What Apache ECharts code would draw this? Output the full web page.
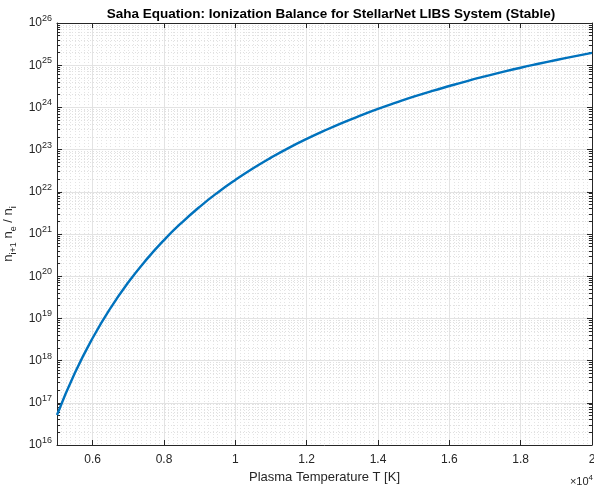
<!DOCTYPE html>
<html><head><meta charset="utf-8">
<script src="https://cdn.jsdelivr.net/npm/echarts@6/dist/echarts.min.js"></script>
<style>html,body{margin:0;padding:0;background:#fff}#c{width:594px;height:488px}</style>
</head><body><div id="c"></div>
<script>
// Plasma temperature [K]
const temperatures = [5000,5500,6000,6500,7000,7500,8000,8500,9000,9500,10000,10500,11000,11500,12000,12500,13000,13500,14000,14500,15000,15500,16000,16500,17000,17500,18000,18500,19000,19500,20000];
// n_{i+1} n_e / n_i
const ratioValues = [5.15e16,5.07e17,3.44e18,1.76e19,7.18e19,2.44e20,7.19e20,1.87e21,4.41e21,9.53e21,1.91e22,3.61e22,6.44e22,1.10e23,1.79e23,2.82e23,4.31e23,6.37e23,9.18e23,1.29e24,1.79e24,2.42e24,3.21e24,4.21e24,5.43e24,6.92e24,8.71e24,1.08e25,1.33e25,1.62e25,1.96e25];
// tick labels
const xTickValues = [6000,8000,10000,12000,14000,16000,18000,20000];
const yTickExponents = [16,17,18,19,20,21,22,23,24,25,26];

const FONT = '"Liberation Sans", Arial, Helvetica, sans-serif';
const AX = '#262626';
// tiny inward nudge at the ends so float rounding never drops the end ticks
const yDecades = yTickExponents.map((e, i) => {
  let v = Number('1e' + e);
  if (i === yTickExponents.length - 1) v *= (1 - 1e-9);
  if (i === 0) v *= (1 + 1e-9);
  return v;
});
const yMinor = [];
for (let i = 0; i < yTickExponents.length - 1; i++) {
  for (let k = 2; k <= 9; k++) yMinor.push(Number(k + 'e' + yTickExponents[i]));
}
const xMinor = [];
for (let t = 5000; t <= 20000; t += 125) { if (xTickValues.indexOf(t) < 0) xMinor.push(t); }

const data = temperatures.map((t, i) => [t, ratioValues[i]]);
const chart = echarts.init(document.getElementById('c'), null, {renderer: 'canvas'});

const hid = {show: false};
const base = {min: 5000, max: 20000, type: 'value'};
const ybase = {type: 'log', logBase: 10, min: 1e16, max: 1e26};

chart.setOption({
  animation: false,
  backgroundColor: '#fff',
  textStyle: {fontFamily: FONT},
  title: {
    text: 'Saha Equation: Ionization Balance for StellarNet LIBS System (Stable)',
    left: 326, top: 2, textAlign: 'center',
    textStyle: {fontFamily: FONT, fontSize: 13.5, fontWeight: 'bold', color: '#000'}
  },
  grid: {left: 57, right: 2, top: 23, bottom: 43, containLabel: false, outerBoundsMode: 'none'},
  xAxis: [
    Object.assign({}, base, {
      position: 'bottom',
      axisLine: {show: true, lineStyle: {color: AX, width: 1}},
      axisTick: {show: true, inside: true, length: 5, customValues: xTickValues, lineStyle: {color: AX}},
      axisLabel: {show: true, customValues: xTickValues, margin: 9, color: AX, fontSize: 12, fontFamily: FONT,
        formatter: v => String(Math.round(v / 1000) / 10)},
      splitLine: {show: true, lineStyle: {color: '#e3e3e3', width: 1}},
      name: 'Plasma Temperature T [K]', nameLocation: 'middle', nameGap: 26,
      nameTextStyle: {fontSize: 13, color: AX, fontFamily: FONT}
    }),
    Object.assign({}, base, {
      position: 'bottom',
      axisLine: hid, axisLabel: hid,
      axisTick: {show: false, customValues: xMinor},
      splitLine: {show: true, lineStyle: {color: '#e4e4e4', width: 1, type: [1, 2]}}
    }),
    Object.assign({}, base, {
      position: 'top',
      axisLine: {show: true, lineStyle: {color: AX, width: 1}},
      axisTick: {show: true, inside: true, length: 5, customValues: xTickValues, lineStyle: {color: AX}},
      axisLabel: hid, splitLine: hid
    })
  ],
  yAxis: [
    Object.assign({}, ybase, {
      position: 'left',
      axisLine: {show: true, lineStyle: {color: AX, width: 1}},
      axisTick: {show: true, inside: true, length: 5, customValues: yDecades, lineStyle: {color: AX}},
      axisLabel: {show: true, customValues: yDecades, margin: 5, color: AX, fontFamily: FONT,
        formatter: v => '{a|10}{b|' + Math.round(Math.log10(v)) + '}',
        rich: {
          a: {fontSize: 12, lineHeight: 18, color: AX, fontFamily: FONT},
          b: {fontSize: 9, lineHeight: 10, verticalAlign: 'top', color: AX, fontFamily: FONT}
        }},
      splitLine: {show: true, lineStyle: {color: '#e3e3e3', width: 1}},
      name: '{n|n}{s|i+1}{n| n}{s|e}{n| / n}{s|i}', nameLocation: 'middle', nameGap: 27, nameRotate: 90,
      nameTextStyle: {
        rich: {
          n: {fontSize: 13, lineHeight: 18, color: AX, fontFamily: FONT},
          s: {fontSize: 9, lineHeight: 10, verticalAlign: 'bottom', color: AX, fontFamily: FONT}
        }
      }
    }),
    Object.assign({}, ybase, {
      position: 'left',
      axisLine: hid, axisLabel: hid,
      axisTick: {show: true, inside: true, length: 3, customValues: yMinor, lineStyle: {color: AX}},
      splitLine: {show: true, lineStyle: {color: '#e0e0e0', width: 1, type: [1, 2]}}
    }),
    Object.assign({}, ybase, {
      position: 'right',
      axisLine: {show: true, lineStyle: {color: AX, width: 1}},
      axisTick: {show: true, inside: true, length: 5, customValues: yDecades, lineStyle: {color: AX}},
      axisLabel: hid, splitLine: hid
    }),
    Object.assign({}, ybase, {
      position: 'right',
      axisLine: hid, axisLabel: hid,
      axisTick: {show: true, inside: true, length: 3, customValues: yMinor, lineStyle: {color: AX}},
      splitLine: hid
    })
  ],
  graphic: [{
    type: 'text', right: 1, top: 474,
    style: {
      text: '{a|×10}{b|4}',
      rich: {
        a: {fontSize: 11, lineHeight: 16, fill: AX, fontFamily: FONT},
        b: {fontSize: 8, lineHeight: 9, verticalAlign: 'top', fill: AX, fontFamily: FONT}
      }
    }
  }],
  series: [{
    type: 'line', xAxisIndex: 0, yAxisIndex: 0, data: data,
    smooth: true, showSymbol: false, symbol: 'none',
    lineStyle: {color: '#0072BD', width: 2.4}, z: 5
  }]
});
</script></body></html>
